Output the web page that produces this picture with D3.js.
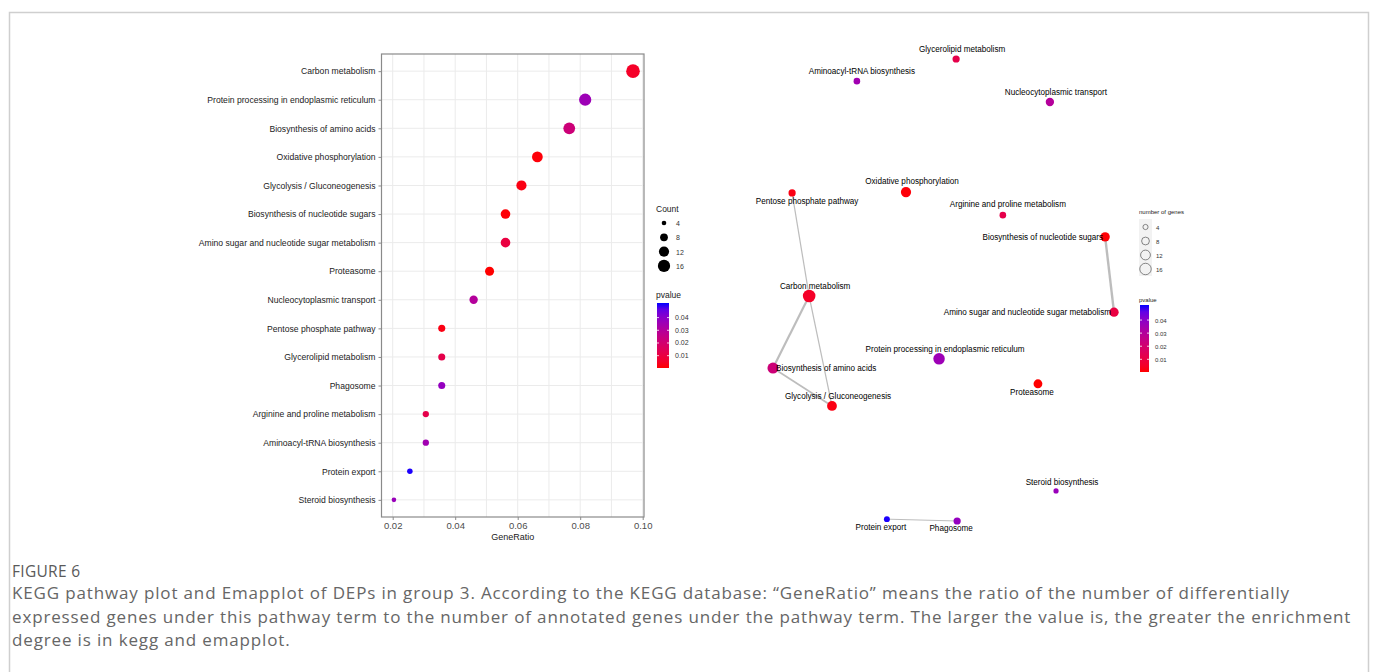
<!DOCTYPE html>
<html>
<head>
<meta charset="utf-8">
<script src="https://cdn.jsdelivr.net/npm/d3@7"></script>
<style>
  body { margin: 0; background: #fff; }
  svg text { font-family: "Liberation Sans", Arial, sans-serif; }
  .cap { font-family: "Open Sans", sans-serif; }
</style>
</head>
<body>
<svg id="fig" width="1376" height="672"></svg>
<script>
// KEGG enrichment, group 3 (ordered by GeneRatio, top to bottom)
var pathways = [
  "Carbon metabolism",
  "Protein processing in endoplasmic reticulum",
  "Biosynthesis of amino acids",
  "Oxidative phosphorylation",
  "Glycolysis / Gluconeogenesis",
  "Biosynthesis of nucleotide sugars",
  "Amino sugar and nucleotide sugar metabolism",
  "Proteasome",
  "Nucleocytoplasmic transport",
  "Pentose phosphate pathway",
  "Glycerolipid metabolism",
  "Phagosome",
  "Arginine and proline metabolism",
  "Aminoacyl-tRNA biosynthesis",
  "Protein export",
  "Steroid biosynthesis"
];
var geneRatio = [0.0969, 0.0816, 0.0765, 0.0663, 0.0612, 0.0561, 0.0561, 0.0510,
                 0.0459, 0.0357, 0.0357, 0.0357, 0.0306, 0.0306, 0.0255, 0.0204];
var geneCount = [19, 16, 15, 13, 12, 11, 11, 10, 9, 7, 7, 7, 6, 6, 5, 4];
var pValue    = [0.005, 0.036, 0.022, 0.001, 0.002, 0.0008, 0.010, 0.0003,
                 0.030, 0.002, 0.012, 0.038, 0.012, 0.035, 0.051, 0.037];

var xTicks = [0.02, 0.04, 0.06, 0.08, 0.10];
var countBreaks = [4, 8, 12, 16];
var pBreaks = [0.01, 0.02, 0.03, 0.04];

// emapplot layout (same order as pathways), layout units 0..1
var emapX = [0.106, 0.487, 0.000, 0.390, 0.173, 0.974, 1.000, 0.777,
             0.812, 0.056, 0.537, 0.540, 0.674, 0.246, 0.334, 0.830];
var emapY = [0.513, 0.649, 0.669, 0.288, 0.751, 0.385, 0.548, 0.703,
             0.093, 0.290, 0.000, 1.000, 0.338, 0.048, 0.996, 0.935];
// label nudges [dx, dy, anchor]
var emapLabel = [[6,-7,"middle"],[6,-7,"middle"],[3,3,"start"],[6,-8,"middle"],[6,-7,"middle"],
                 [-2,3,"end"],[-3,3,"end"],[-6,11,"middle"],[6,-7,"middle"],[15,11,"middle"],
                 [6,-7,"middle"],[-6,10,"middle"],[5,-8,"middle"],[5,-7,"middle"],[-6,11,"middle"],[6,-6,"middle"]];
var emapEdges = [
  ["Pentose phosphate pathway", "Carbon metabolism", 0.25],
  ["Carbon metabolism", "Biosynthesis of amino acids", 0.45],
  ["Carbon metabolism", "Glycolysis / Gluconeogenesis", 0.25],
  ["Biosynthesis of amino acids", "Glycolysis / Gluconeogenesis", 0.35],
  ["Biosynthesis of nucleotide sugars", "Amino sugar and nucleotide sugar metabolism", 0.5],
  ["Protein export", "Phagosome", 0.2]
];

var svg = d3.select("#fig");

// figure frame
svg.append("path").attr("d", "M9.5,690 V12.5 H1368.5 V690")
  .attr("fill", "none").attr("stroke", "#cfcfcf").attr("stroke-width", 1.5);

var rows = pathways.map(function(p, i) {
  return { name: p, ratio: geneRatio[i], count: geneCount[i], p: pValue[i] };
});

var colour = d3.scaleLinear().domain([0.0003, 0.0515]).range(["red", "blue"])
  .interpolate(d3.interpolateLab);

// ---------- left: dot plot ----------
var L = { left: 381.5, right: 644, top: 54, bottom: 517 };
var x = d3.scaleLinear().domain([0.01642, 0.10042]).range([L.left, L.right]);
var y = d3.scalePoint().domain(pathways).range([L.top, L.bottom]).padding(0.6);
var size = d3.scaleSqrt().domain([4, 19]).range([2.3, 6.8]);

var g = svg.append("g");
g.append("rect").attr("x", L.left).attr("y", L.top)
  .attr("width", L.right - L.left).attr("height", L.bottom - L.top).attr("fill", "#fff");

g.selectAll(".vgrid").data(d3.range(0.02, 0.1001, 0.01)).enter().append("line")
  .attr("x1", function(d) { return x(d); }).attr("x2", function(d) { return x(d); })
  .attr("y1", L.top).attr("y2", L.bottom)
  .attr("stroke", "#ebebeb").attr("stroke-width", 1);
g.selectAll(".hgrid").data(pathways).enter().append("line")
  .attr("x1", L.left).attr("x2", L.right)
  .attr("y1", function(d) { return y(d); }).attr("y2", function(d) { return y(d); })
  .attr("stroke", "#ebebeb").attr("stroke-width", 1);

g.selectAll("circle.dot").data(rows).enter().append("circle")
  .attr("cx", function(d) { return x(d.ratio); })
  .attr("cy", function(d) { return y(d.name); })
  .attr("r", function(d) { return size(d.count); })
  .attr("fill", function(d) { return colour(d.p); });

g.append("rect").attr("x", L.left).attr("y", L.top)
  .attr("width", L.right - L.left).attr("height", L.bottom - L.top)
  .attr("fill", "none").attr("stroke", "#8a8a8a").attr("stroke-width", 1.2);

var xAxis = g.append("g").attr("transform", "translate(0," + L.bottom + ")")
  .call(d3.axisBottom(x).tickValues(xTicks).tickFormat(d3.format(".2f")).tickSize(3).tickSizeOuter(0));
xAxis.select(".domain").remove();
xAxis.selectAll("line").attr("stroke", "#8a8a8a");
xAxis.selectAll("text").attr("fill", "#4d4d4d").attr("font-size", 9.5).attr("dy", "0.6em");

var yAxis = g.append("g").attr("transform", "translate(" + L.left + ",0)")
  .call(d3.axisLeft(y).tickSize(3).tickSizeOuter(0));
yAxis.select(".domain").remove();
yAxis.selectAll("line").attr("stroke", "#8a8a8a");
yAxis.selectAll("text").attr("fill", "#222").attr("font-size", 8.6);

g.append("text").attr("x", (L.left + L.right) / 2).attr("y", 540)
  .attr("text-anchor", "middle").attr("font-size", 9).attr("fill", "#222").text("GeneRatio");

// Count legend
var lg = svg.append("g").attr("transform", "translate(656,0)");
lg.append("text").attr("x", 0).attr("y", 212).attr("font-size", 8.5).attr("fill", "#222").text("Count");
lg.selectAll("circle").data(countBreaks).enter().append("circle")
  .attr("cx", 8).attr("cy", function(d, i) { return 223 + i * 14.3; })
  .attr("r", function(d) { return size(d); }).attr("fill", "#000");
lg.selectAll("text.k").data(countBreaks).enter().append("text").attr("class", "k")
  .attr("x", 20).attr("y", function(d, i) { return 226 + i * 14.3; })
  .attr("font-size", 7).attr("fill", "#333").text(function(d) { return d; });

function colourbar(parent, gx, top, bottom, w, titleY, titleSize, labSize, id) {
  var defs = svg.append("defs");
  var grad = defs.append("linearGradient").attr("id", id)
    .attr("x1", 0).attr("y1", 1).attr("x2", 0).attr("y2", 0);
  d3.range(0, 1.001, 0.1).forEach(function(t) {
    var v = colour.domain()[0] + t * (colour.domain()[1] - colour.domain()[0]);
    grad.append("stop").attr("offset", t).attr("stop-color", colour(v));
  });
  var cy = d3.scaleLinear().domain(colour.domain()).range([bottom, top]);
  var cg = parent.append("g");
  cg.append("text").attr("x", gx - 1).attr("y", titleY).attr("font-size", titleSize)
    .attr("fill", "#222").text("pvalue");
  cg.append("rect").attr("x", gx).attr("y", top).attr("width", w).attr("height", bottom - top)
    .attr("fill", "url(#" + id + ")");
  pBreaks.forEach(function(b) {
    cg.append("line").attr("x1", gx).attr("x2", gx + 2).attr("y1", cy(b)).attr("y2", cy(b))
      .attr("stroke", "#fff").attr("stroke-width", 0.8);
    cg.append("line").attr("x1", gx + w - 2).attr("x2", gx + w).attr("y1", cy(b)).attr("y2", cy(b))
      .attr("stroke", "#fff").attr("stroke-width", 0.8);
    cg.append("text").attr("x", gx + w + 6).attr("y", cy(b) + 2.5).attr("font-size", labSize)
      .attr("fill", "#333").text(d3.format(".2f")(b));
  });
}
colourbar(svg, 657, 303, 368, 12, 298, 8.5, 7, "gradL");

// ---------- right: emapplot ----------
var ex = d3.scaleLinear().domain([0, 1]).range([773, 1114]);
var ey = d3.scaleLinear().domain([0, 1]).range([59, 521]);
var nsize = d3.scaleSqrt().domain([4, 19]).range([2.6, 6.3]);
var ew = d3.scaleLinear().domain([0.2, 0.5]).range([1, 2.4]);
var nodes = rows.map(function(d, i) {
  return { name: d.name, count: d.count, p: d.p, x: ex(emapX[i]), y: ey(emapY[i]), lab: emapLabel[i] };
});
var byName = {};
nodes.forEach(function(n) { byName[n.name] = n; });

var eg = svg.append("g");
eg.selectAll("line").data(emapEdges).enter().append("line")
  .attr("x1", function(d) { return byName[d[0]].x; }).attr("y1", function(d) { return byName[d[0]].y; })
  .attr("x2", function(d) { return byName[d[1]].x; }).attr("y2", function(d) { return byName[d[1]].y; })
  .attr("stroke", "#bdbdbd").attr("stroke-width", function(d) { return ew(d[2]); });
eg.selectAll("circle").data(nodes).enter().append("circle")
  .attr("cx", function(d) { return d.x; }).attr("cy", function(d) { return d.y; })
  .attr("r", function(d) { return nsize(d.count); })
  .attr("fill", function(d) { return colour(d.p); });
eg.selectAll("text").data(nodes).enter().append("text")
  .attr("transform", function(d) { return "translate(" + (d.x + d.lab[0]) + "," + (d.y + d.lab[1]) + ") scale(0.84,1)"; })
  .attr("text-anchor", function(d) { return d.lab[2]; })
  .attr("font-size", 9.7).attr("fill", "#000").text(function(d) { return d.name; });

// number of genes legend
var rg = svg.append("g");
rg.append("text").attr("x", 1139).attr("y", 214).attr("font-size", 6).attr("fill", "#222").text("number of genes");
rg.append("rect").attr("x", 1139).attr("y", 219).attr("width", 13).attr("height", 57).attr("fill", "#f2f2f2");
rg.selectAll("circle").data(countBreaks).enter().append("circle")
  .attr("cx", 1145.5).attr("cy", function(d, i) { return 227 + i * 14; })
  .attr("r", function(d) { return nsize(d); })
  .attr("fill", "none").attr("stroke", "#555").attr("stroke-width", 0.7);
rg.selectAll("text.k").data(countBreaks).enter().append("text").attr("class", "k")
  .attr("x", 1156).attr("y", function(d, i) { return 229.5 + i * 14; })
  .attr("font-size", 6).attr("fill", "#333").text(function(d) { return d; });
colourbar(svg, 1140, 305, 372, 9, 302, 6, 6, "gradR");

// ---------- caption ----------
svg.append("text").attr("class", "cap").attr("x", 12).attr("y", 577)
  .attr("font-size", 15.5).attr("letter-spacing", 0.3).attr("fill", "#5a5a5a").text("FIGURE 6");
var capLines = [
  "KEGG pathway plot and Emapplot of DEPs in group 3. According to the KEGG database: \u201cGeneRatio\u201d means the ratio of the number of differentially",
  "expressed genes under this pathway term to the number of annotated genes under the pathway term. The larger the value is, the greater the enrichment",
  "degree is in kegg and emapplot."
];
svg.selectAll("text.capl").data(capLines).enter().append("text").attr("class", "cap capl")
  .attr("x", 12).attr("y", function(d, i) { return 599 + i * 23.5; })
  .attr("font-size", 17).attr("letter-spacing", 0.85).attr("fill", "#666").text(function(d) { return d; });
</script>
</body>
</html>
